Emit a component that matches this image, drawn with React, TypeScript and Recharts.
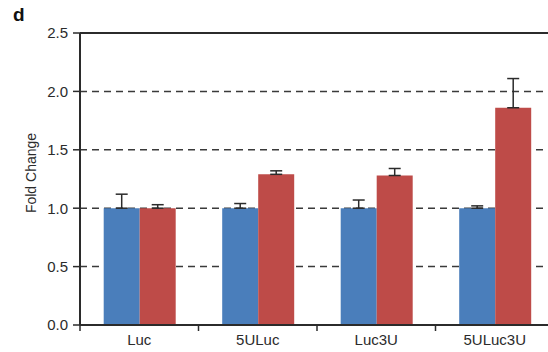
import { BarChart, Bar, XAxis, YAxis, CartesianGrid, ErrorBar, ReferenceLine } from "recharts";

const constructs = ["Luc", "5ULuc", "Luc3U", "5ULuc3U"];
const controlFold = [1.0, 1.0, 1.0, 1.0];
const treatedFold = [1.0, 1.29, 1.28, 1.86];
const controlErr = [0.12, 0.04, 0.07, 0.02];
const treatedErr = [0.03, 0.03, 0.06, 0.25];
const yTicks = [0, 0.5, 1.0, 1.5, 2.0, 2.5];

const BLUE = "#4A7EBB";
const RED = "#BE4B48";
const INK = "#2b2b2b";
const FONT = "'Liberation Sans', Arial, sans-serif";

const rows = constructs.map((name, i) => ({
  name,
  control: controlFold[i],
  treated: treatedFold[i],
  controlErr: [0, controlErr[i]],
  treatedErr: [0, treatedErr[i]],
}));

// category label plus a tick mark on the left edge of its band
function GroupTick(props: any) {
  const { x, y, payload } = props;
  const edge = x - (payload.offset ?? 0);
  return (
    <g>
      <line x1={edge} x2={edge} y1={y - 9} y2={y - 3} stroke={INK} strokeWidth={1.5} />
      <text
        x={x}
        y={y}
        dy="0.71em"
        textAnchor="middle"
        fontSize={15}
        fontFamily={FONT}
        fill={INK}
      >
        {payload.value}
      </text>
    </g>
  );
}

function FoldLabel() {
  return (
    <text
      x={36}
      y={173}
      transform="rotate(-90 36 173)"
      textAnchor="middle"
      fontSize={14}
      fontFamily={FONT}
      fill={INK}
    >
      Fold Change
    </text>
  );
}

export default function App() {
  return (
    <div
      style={{
        position: "absolute",
        left: 0,
        top: 0,
        width: 548,
        height: 352,
        overflow: "hidden",
        background: "#fff",
      }}
    >
      <div
        style={{
          position: "absolute",
          left: 13,
          top: 4,
          fontFamily: FONT,
          fontWeight: "bold",
          fontSize: 19,
          color: "#111",
        }}
      >
        d
      </div>
      <BarChart
        width={554}
        height={352}
        data={rows}
        margin={{ top: 33, right: 0, bottom: 0, left: 0 }}
        barCategoryGap="20%"
        barGap={0}
      >
        <CartesianGrid
          vertical={false}
          stroke="#3a3a3a"
          strokeWidth={1.5}
          strokeDasharray="7 5"
        />
        <ReferenceLine y={2.5} stroke={INK} strokeWidth={2} />
        <XAxis
          dataKey="name"
          height={27}
          axisLine={{ stroke: INK, strokeWidth: 2 }}
          tickLine={false}
          tickSize={0}
          tickMargin={9}
          tick={<GroupTick />}
        />
        <YAxis
          width={80}
          domain={[0, 2.5]}
          ticks={yTicks}
          tickFormatter={(v: number) => v.toFixed(1)}
          axisLine={{ stroke: INK, strokeWidth: 2 }}
          tickLine={{ stroke: INK, strokeWidth: 1.5 }}
          tickSize={7}
          tickMargin={5}
          tick={{ fontSize: 15, fontFamily: FONT, fill: INK }}
          label={{ content: () => <FoldLabel /> }}
        />
        <Bar dataKey="control" fill={BLUE} isAnimationActive={false}>
          <ErrorBar dataKey="controlErr" width={6} stroke={INK} strokeWidth={1.5} />
        </Bar>
        <Bar dataKey="treated" fill={RED} isAnimationActive={false}>
          <ErrorBar dataKey="treatedErr" width={6} stroke={INK} strokeWidth={1.5} />
        </Bar>
      </BarChart>
    </div>
  );
}
